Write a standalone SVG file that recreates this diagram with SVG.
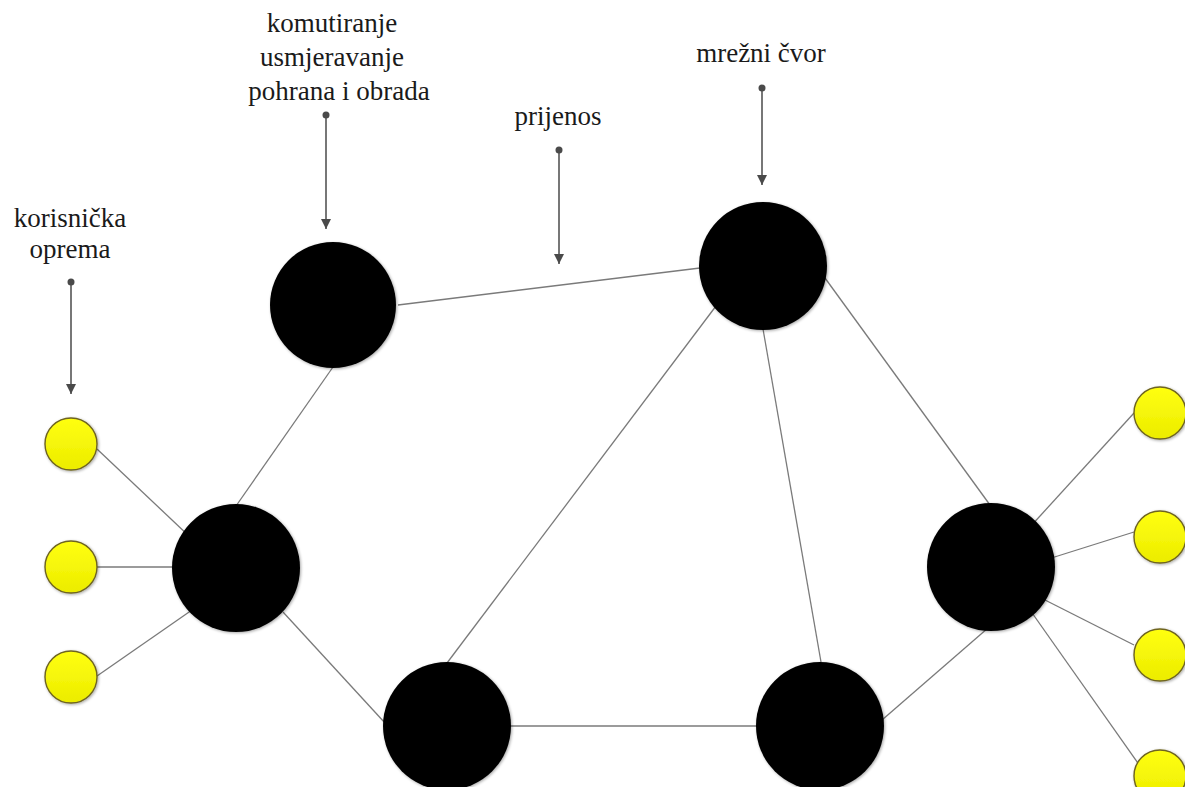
<svg xmlns="http://www.w3.org/2000/svg" width="1185" height="787" viewBox="0 0 1185 787">
  <style>
    .lbl { font-family: "Liberation Serif", Tinos, "Times New Roman", "DejaVu Serif", serif; font-size: 27px; fill: #1a1a1a; text-anchor: middle; }
    .edge { stroke: #7a7a7a; stroke-width: 1.3; fill: none; }
    .ptr { stroke: #4a4a4a; stroke-width: 1.5; fill: none; marker-start: url(#dot); marker-end: url(#tri); }
    .big { fill: #000; filter: url(#soft); }
    .small { fill: url(#yel); stroke: #6e6420; stroke-width: 1.4; filter: url(#soft); }
  </style>
  <defs>
    <marker id="dot" viewBox="0 0 8 8" refX="4" refY="4" markerWidth="8" markerHeight="8" markerUnits="userSpaceOnUse">
      <circle cx="4" cy="4" r="3.5" fill="#4a4a4a"/>
    </marker>
    <marker id="tri" viewBox="0 0 10 10" refX="10" refY="5" markerWidth="10" markerHeight="10" orient="auto" markerUnits="userSpaceOnUse">
      <path d="M0,0 L10,5 L0,10 Z" fill="#4a4a4a"/>
    </marker>
    <linearGradient id="yel" x1="0" y1="0" x2="0" y2="1">
      <stop offset="0" stop-color="#ffff10"/>
      <stop offset="1" stop-color="#ecec00"/>
    </linearGradient>
    <filter id="soft" x="-20%" y="-20%" width="140%" height="140%">
      <feGaussianBlur in="SourceAlpha" stdDeviation="1.5" result="b"/>
      <feOffset dx="0.5" dy="0.5" result="o"/>
      <feComponentTransfer in="o" result="s"><feFuncA type="linear" slope="0.35"/></feComponentTransfer>
      <feMerge><feMergeNode in="s"/><feMergeNode in="SourceGraphic"/></feMerge>
    </filter>
  </defs>
  <rect width="1185" height="787" fill="#fff"/>

  <g id="connectors">
    <line class="edge" x1="398" y1="305" x2="700" y2="268"/>
    <line class="edge" x1="333" y1="367" x2="236" y2="506"/>
    <line class="edge" x1="716" y1="306" x2="447" y2="663"/>
    <line class="edge" x1="763" y1="329" x2="821" y2="662"/>
    <line class="edge" x1="825" y1="278" x2="990" y2="505"/>
    <line class="edge" x1="283" y1="612" x2="385" y2="723"/>
    <line class="edge" x1="510" y1="726" x2="757" y2="726"/>
    <line class="edge" x1="882" y1="720" x2="988" y2="628"/>
    <line class="edge" x1="97" y1="449" x2="190" y2="537"/>
    <line class="edge" x1="97" y1="567" x2="175" y2="567"/>
    <line class="edge" x1="97" y1="676" x2="192" y2="610"/>
    <line class="edge" x1="1030" y1="527" x2="1134" y2="413"/>
    <line class="edge" x1="1045" y1="560" x2="1134" y2="532"/>
    <line class="edge" x1="1045" y1="600" x2="1134" y2="645"/>
    <line class="edge" x1="1030" y1="610" x2="1140" y2="766"/>
  </g>

  <g id="pointers">
    <line class="ptr" x1="71" y1="282" x2="71" y2="394"/>
    <line class="ptr" x1="326" y1="115" x2="326" y2="229"/>
    <line class="ptr" x1="559" y1="150" x2="559" y2="264"/>
    <line class="ptr" x1="762" y1="88" x2="762" y2="185"/>
  </g>

  <g id="n-topleft"><circle class="big" cx="333" cy="305" r="63"/></g>
  <g id="n-top"><circle class="big" cx="763" cy="266" r="64"/></g>
  <g id="n-left"><circle class="big" cx="236" cy="568" r="64"/></g>
  <g id="n-right"><circle class="big" cx="991" cy="567" r="64"/></g>
  <g id="n-bottomleft"><circle class="big" cx="447" cy="726" r="64"/></g>
  <g id="n-bottomright"><circle class="big" cx="820" cy="726" r="64"/></g>

  <g id="u-l1"><circle class="small" cx="71" cy="444" r="26"/></g>
  <g id="u-l2"><circle class="small" cx="71" cy="567" r="26"/></g>
  <g id="u-l3"><circle class="small" cx="71" cy="677" r="26"/></g>
  <g id="u-r1"><circle class="small" cx="1160" cy="413" r="26"/></g>
  <g id="u-r2"><circle class="small" cx="1160" cy="537" r="26"/></g>
  <g id="u-r3"><circle class="small" cx="1160" cy="655" r="26"/></g>
  <g id="u-r4"><circle class="small" cx="1160" cy="776" r="26"/></g>

  <g id="label-korisnicka">
    <text class="lbl" x="70" y="227">korisnička</text>
    <text class="lbl" x="70" y="258">oprema</text>
  </g>
  <g id="label-komutiranje">
    <text class="lbl" x="332" y="32">komutiranje</text>
    <text class="lbl" x="332" y="66">usmjeravanje</text>
    <text class="lbl" x="339" y="100">pohrana i obrada</text>
  </g>
  <g id="label-prijenos"><text class="lbl" x="558" y="125">prijenos</text></g>
  <g id="label-mrezni"><text class="lbl" x="761" y="62">mrežni čvor</text></g>
</svg>
